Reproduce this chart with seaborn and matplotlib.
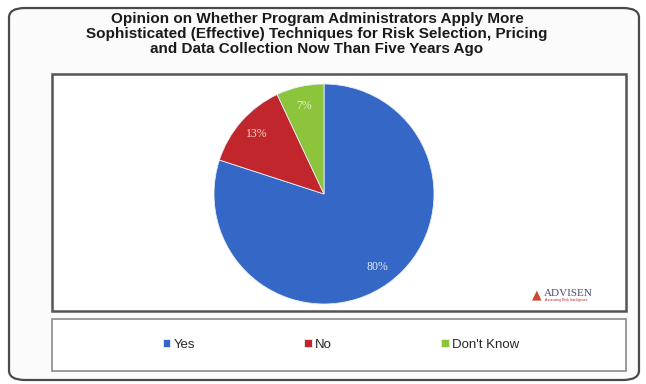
import matplotlib
matplotlib.use("Agg")
import matplotlib.pyplot as plt
from matplotlib.patches import FancyBboxPatch, Rectangle
import seaborn as sns

# Survey responses (percent)
categories = ["Yes", "No", "Don't Know"]
shares = [80, 13, 7]
title_lines = [
    "Opinion on Whether Program Administrators Apply More",
    "Sophisticated (Effective) Techniques for Risk Selection, Pricing",
    "and Data Collection Now Than Five Years Ago",
]

sns.set_theme(style="white")
plt.rcParams["font.family"] = ["Liberation Sans", "DejaVu Sans"]

palette = ["#3567c6", "#c0262c", "#8cc43c"]

W, H = 646, 384
fig = plt.figure(figsize=(W / 100, H / 100), dpi=100)
fig.patch.set_facecolor("white")


def fx(px):
    return px / W


def fy(py):
    return 1 - py / H


# outer rounded frame
fig.patches.append(FancyBboxPatch((fx(9), fy(380)), fx(630), (372) / H,
                                  boxstyle="round,pad=0,rounding_size=0.025",
                                  transform=fig.transFigure, facecolor="#fbfbfb",
                                  edgecolor="#4a4a4a", linewidth=1.6, zorder=-3))
# plot area frame
fig.patches.append(Rectangle((fx(52), fy(311)), fx(574), (311 - 74) / H,
                             transform=fig.transFigure, facecolor="white",
                             edgecolor="#555555", linewidth=1.8, zorder=-2))
# legend frame
fig.patches.append(Rectangle((fx(52), fy(371)), fx(574), (371 - 319) / H,
                             transform=fig.transFigure, facecolor="white",
                             edgecolor="#8a8a8a", linewidth=1.2, zorder=-2))

fig.text(fx(317), fy(34), "\n".join(title_lines), ha="center", va="center",
         fontsize=11, fontweight="bold", color="#1a1a1a", linespacing=1.12)

# pie axes: centre (324, 194), radius 110 px
cx, cy, r = 324, 194, 110
ax = fig.add_axes([fx(cx - r), fy(cy + r), 2 * r / W, 2 * r / H])
ax.set_zorder(1)
wedges, texts, autotexts = ax.pie(
    shares, colors=palette, startangle=90, counterclock=False,
    autopct="%d%%", pctdistance=0.82,
    wedgeprops=dict(edgecolor="#e8eef8", linewidth=0.6),
    textprops=dict(fontsize=8.5, family=["Liberation Serif", "DejaVu Serif"]),
)
label_colors = ["#e6ecf7", "#f6d9d2", "#e9f2c8"]
for t, c in zip(autotexts, label_colors):
    t.set_color(c)
ax.set_xlim(-1, 1)
ax.set_ylim(-1, 1)
ax.set_aspect("equal")
ax.axis("off")

# legend
fig.legend(wedges, categories, loc="center", bbox_to_anchor=(fx(341), fy(345)),
           ncol=3, frameon=False, fontsize=9.5, handlelength=0.55,
           handleheight=0.55, handletextpad=0.25, columnspacing=8.3)

# publisher mark
fig.text(fx(537), fy(295), "\u25b2", fontsize=9, color="#d0482a",
         ha="center", va="center", family="DejaVu Sans")
fig.text(fx(544), fy(293), "ADVISEN", fontsize=8,
         family=["Liberation Serif", "DejaVu Serif"], color="#4a4f6a",
         ha="left", va="center")
fig.text(fx(545), fy(300), "Assessing Risk Intelligence", fontsize=2.5,
         color="#c0262c", ha="left", va="center")

fig.savefig("out.png", dpi=100)
